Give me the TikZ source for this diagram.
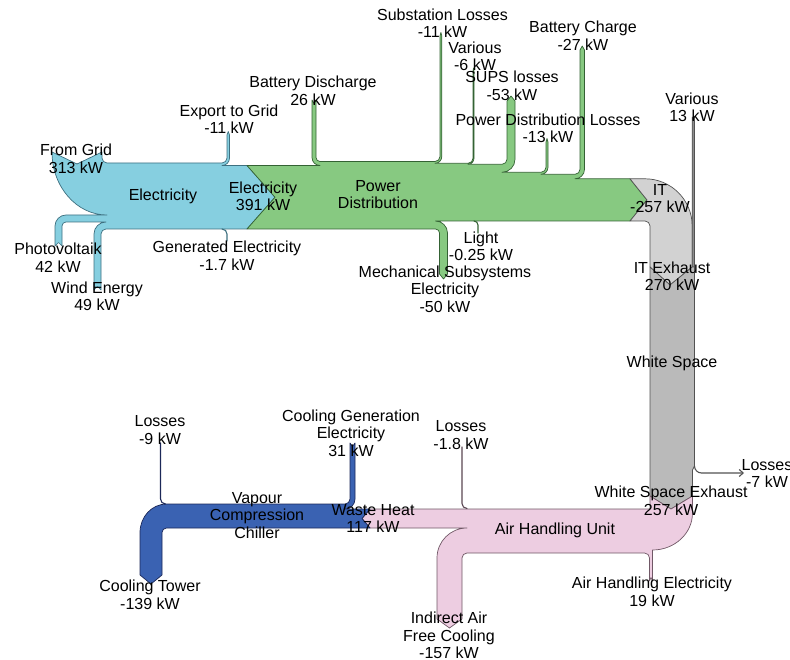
\documentclass[tikz,border=0pt]{standalone}
\usepackage{fontspec}
\setmainfont{Liberation Sans}
\usetikzlibrary{arrows.meta}
% flow colours
\definecolor{elecfill}{RGB}{134,207,224}
\definecolor{elecline}{RGB}{62,112,128}
\definecolor{pdfill}{RGB}{135,201,129}
\definecolor{pdline}{RGB}{52,98,52}
\definecolor{itfill}{RGB}{210,210,210}
\definecolor{wsfill}{RGB}{186,186,186}
\definecolor{varfill}{RGB}{140,140,140}
\definecolor{grayline}{RGB}{82,82,82}
\definecolor{ahufill}{RGB}{237,205,225}
\definecolor{ahuline}{RGB}{112,88,102}
\definecolor{vccfill}{RGB}{58,98,178}
\definecolor{vccline}{RGB}{28,40,88}
\newcommand\sankeyfont{\fontsize{16}{17.5}\selectfont}

\begin{document}
\begin{tikzpicture}[x=1pt,y=-1pt,
  flow/.style={line width=0.7pt, line join=round},
  lossline/.style={line width=1.1pt, line cap=round},
  lbl/.style={align=center, inner sep=0pt, font=\sankeyfont, text=black}]
\useasboundingbox (0,0) rectangle (790,660);

% ---------- Electricity (grid, photovoltaic, wind) ----------
\path[flow, fill=elecfill, draw=elecline]
  (52,152) -- (77,164) -- (102,152) -- (102,158)
  arc[start angle=180, end angle=90, radius=5]
  -- (222,163) arc[start angle=90, end angle=0, radius=5]
  -- (227,135) -- (228.25,131.5) -- (229.5,135) -- (229.5,158)
  arc[start angle=0, end angle=90, radius=7.5]
  -- (247,165.5) -- (275,197.25) -- (247,229)
  -- (106,229) arc[start angle=270, end angle=180, radius=5]
  -- (101,290) -- (97.5,286.5) -- (94,290) -- (94,234)
  arc[start angle=180, end angle=270, radius=12]
  -- (66,222) arc[start angle=270, end angle=180, radius=4]
  -- (62,246) -- (58.5,242.5) -- (55,246) -- (55,226)
  arc[start angle=180, end angle=270, radius=11]
  -- (107,215) arc[start angle=90, end angle=180, x radius=55, y radius=63]
  -- cycle;

% ---------- Power distribution ----------
\path[flow, fill=pdfill, draw=pdline]
  (247,165.5) -- (320,165.5) arc[start angle=90, end angle=180, radius=8]
  -- (312,100) -- (314,103.5) -- (316,100) -- (316,157.5)
  arc[start angle=180, end angle=90, radius=4]
  -- (435,161.5) arc[start angle=90, end angle=0, radius=5]
  -- (440,36) -- (440.9,32.5) -- (441.8,36) -- (441.8,156.5)
  arc[start angle=0, end angle=90, radius=6.8]
  -- (468,163.3) arc[start angle=90, end angle=0, radius=5]
  -- (473,71) -- (473.5,68) -- (474,71) -- (474,158.3)
  arc[start angle=0, end angle=90, radius=6]
  -- (502,164.3) arc[start angle=90, end angle=0, radius=5]
  -- (507,101) -- (511,96) -- (515,101) -- (515,159.3)
  arc[start angle=0, end angle=90, radius=13]
  -- (541,172.3) arc[start angle=90, end angle=0, radius=5]
  -- (546,142) -- (547,138.5) -- (548,142) -- (548,167.3)
  arc[start angle=0, end angle=90, radius=7]
  -- (575,174.3) arc[start angle=90, end angle=0, radius=5]
  -- (580,50) -- (582.25,46) -- (584.5,50) -- (584.5,169.3)
  arc[start angle=0, end angle=90, radius=9.5]
  -- (630,178.8) -- (647,200) -- (630,221)
  -- (435.5,221) arc[start angle=270, end angle=360, radius=12]
  -- (447.5,274) -- (443.5,279) -- (439.5,274) -- (439.5,233)
  arc[start angle=0, end angle=-90, radius=4]
  -- (247,229) -- (275,197.25) -- cycle;

% ---------- IT ----------
\path[flow, fill=itfill, draw=grayline]
  (630,178.8) -- (645,178.8) arc[start angle=270, end angle=360, radius=47.2]
  -- (692.2,267) -- (670,285) -- (650,267) -- (650,226)
  arc[start angle=0, end angle=-90, radius=5]
  -- (630,221) -- (647,200) -- cycle;

% various (13 kW) feeding the IT exhaust
\path[flow, fill=varfill, draw=grayline]
  (692.2,117) -- (693.35,120) -- (694.5,117) -- (694.5,267) -- (692.2,267) -- cycle;

% ---------- White space ----------
\path[flow, fill=wsfill, draw=grayline]
  (650,267) -- (670,285) -- (692.2,267) -- (694.5,267) -- (694.5,466)
  -- (692.5,470) -- (692.5,496) -- (671,509) -- (650,496) -- cycle;

% ---------- Air handling unit ----------
\path[flow, fill=ahufill, draw=ahuline]
  (650,496) -- (671,509) -- (692.5,496) -- (692.5,513)
  arc[start angle=0, end angle=90, x radius=40, y radius=37]
  -- (652.5,581) -- (651,577.5) -- (649.5,581) -- (649.5,558)
  arc[start angle=0, end angle=-90, radius=5]
  -- (467,553) arc[start angle=270, end angle=180, radius=5]
  -- (462,619) -- (449.5,628) -- (437,619) -- (437,558)
  arc[start angle=180, end angle=270, radius=30]
  -- (370,528) -- (362,518.5) -- (370,509) -- (650,509) -- cycle;

% ---------- Vapour compression chiller ----------
\path[flow, fill=vccfill, draw=vccline]
  (166.5,504) -- (345,504) arc[start angle=90, end angle=0, radius=5]
  -- (350,443) -- (352.5,446.5) -- (355,443) -- (355,499)
  arc[start angle=0, end angle=90, radius=10]
  -- (370,509) -- (362,518.5) -- (370,528)
  -- (166.5,528) arc[start angle=270, end angle=180, radius=4.5]
  -- (162,575) -- (151,584) -- (140,575) -- (140,532.5)
  arc[start angle=180, end angle=270, x radius=26.5, y radius=28.5]
  -- cycle;

% ---------- very small flows ----------
\draw[lossline, draw=elecline] (222,229) arc[start angle=270, end angle=360, radius=5] -- (227,241);
\draw[lossline, draw=pdline] (474,221) arc[start angle=270, end angle=360, radius=4] -- (478,233);
\draw[lossline, draw=ahuline!80!black] (462,447) -- (462,503.5) arc[start angle=180, end angle=90, radius=5];
\draw[lossline, draw=vccline] (160.5,443) -- (160.5,499) arc[start angle=180, end angle=90, radius=5];
\draw[lossline, draw=grayline, -{Straight Barb[length=4pt,width=7pt]}]
  (694.5,466) arc[start angle=180, end angle=90, radius=7] -- (744,473);

% ---------- labels ----------
\node[lbl] (grid)   at (76,159)    {From Grid\\313 kW};
\node[lbl] (elec)   at (163,196)   {Electricity};
\node[lbl] (elecout) at (263,196.5) {Electricity\\391 kW};
\node[lbl] (export) at (229,119)   {Export to Grid\\-11 kW};
\node[lbl] (pv)     at (58,257.5)  {Photovoltaik\\42 kW};
\node[lbl] (wind)   at (97,296.5)  {Wind Energy\\49 kW};
\node[lbl] (gen)    at (227,255.5) {Generated Electricity\\-1.7 kW};
\node[lbl] (batdis) at (313,91)    {Battery Discharge\\26 kW};
\node[lbl] (pd)     at (378,194.5) {Power\\Distribution};
\node[lbl] (subst)  at (442.5,23)  {Substation Losses\\-11 kW};
\node[lbl] (var1)   at (475,56.5)  {Various\\-6 kW};
\node[lbl] (sups)   at (512,86)    {SUPS losses\\-53 kW};
\node[lbl] (pdloss) at (548,128.5) {Power Distribution Losses\\-13 kW};
\node[lbl] (batch)  at (583,35.5)  {Battery Charge\\-27 kW};
\node[lbl] (var2)   at (692,107.5) {Various\\13 kW};
\node[lbl] (it)     at (660,198.5) {IT\\-257 kW};
\node[lbl] (light)  at (481,246.5) {Light\\-0.25 kW};
\node[lbl] (mech)   at (445,289)   {Mechanical Subsystems\\Electricity\\-50 kW};
\node[lbl] (itex)   at (672,276.5) {IT Exhaust\\270 kW};
\node[lbl] (ws)     at (672,363)   {White Space};
\node[lbl] (loss9)  at (160,430)   {Losses\\-9 kW};
\node[lbl] (cge)    at (351,433)   {Cooling Generation\\Electricity\\31 kW};
\node[lbl] (loss18) at (461,435)   {Losses\\-1.8 kW};
\node[lbl] (vcc)    at (257,515.5) {Vapour\\Compression\\Chiller};
\node[lbl] (waste)  at (373,518.5) {Waste Heat\\117 kW};
\node[lbl] (wsex)   at (671,501)   {White Space Exhaust\\257 kW};
\node[lbl] (loss7)  at (767,473.5) {Losses\\-7 kW};
\node[lbl] (ahu)    at (555,530)   {Air Handling Unit};
\node[lbl] (ahue)   at (652,592)   {Air Handling Electricity\\19 kW};
\node[lbl] (tower)  at (150,595)   {Cooling Tower\\-139 kW};
\node[lbl] (iafc)   at (449,635.5) {Indirect Air\\Free Cooling\\-157 kW};
\end{tikzpicture}
\end{document}
